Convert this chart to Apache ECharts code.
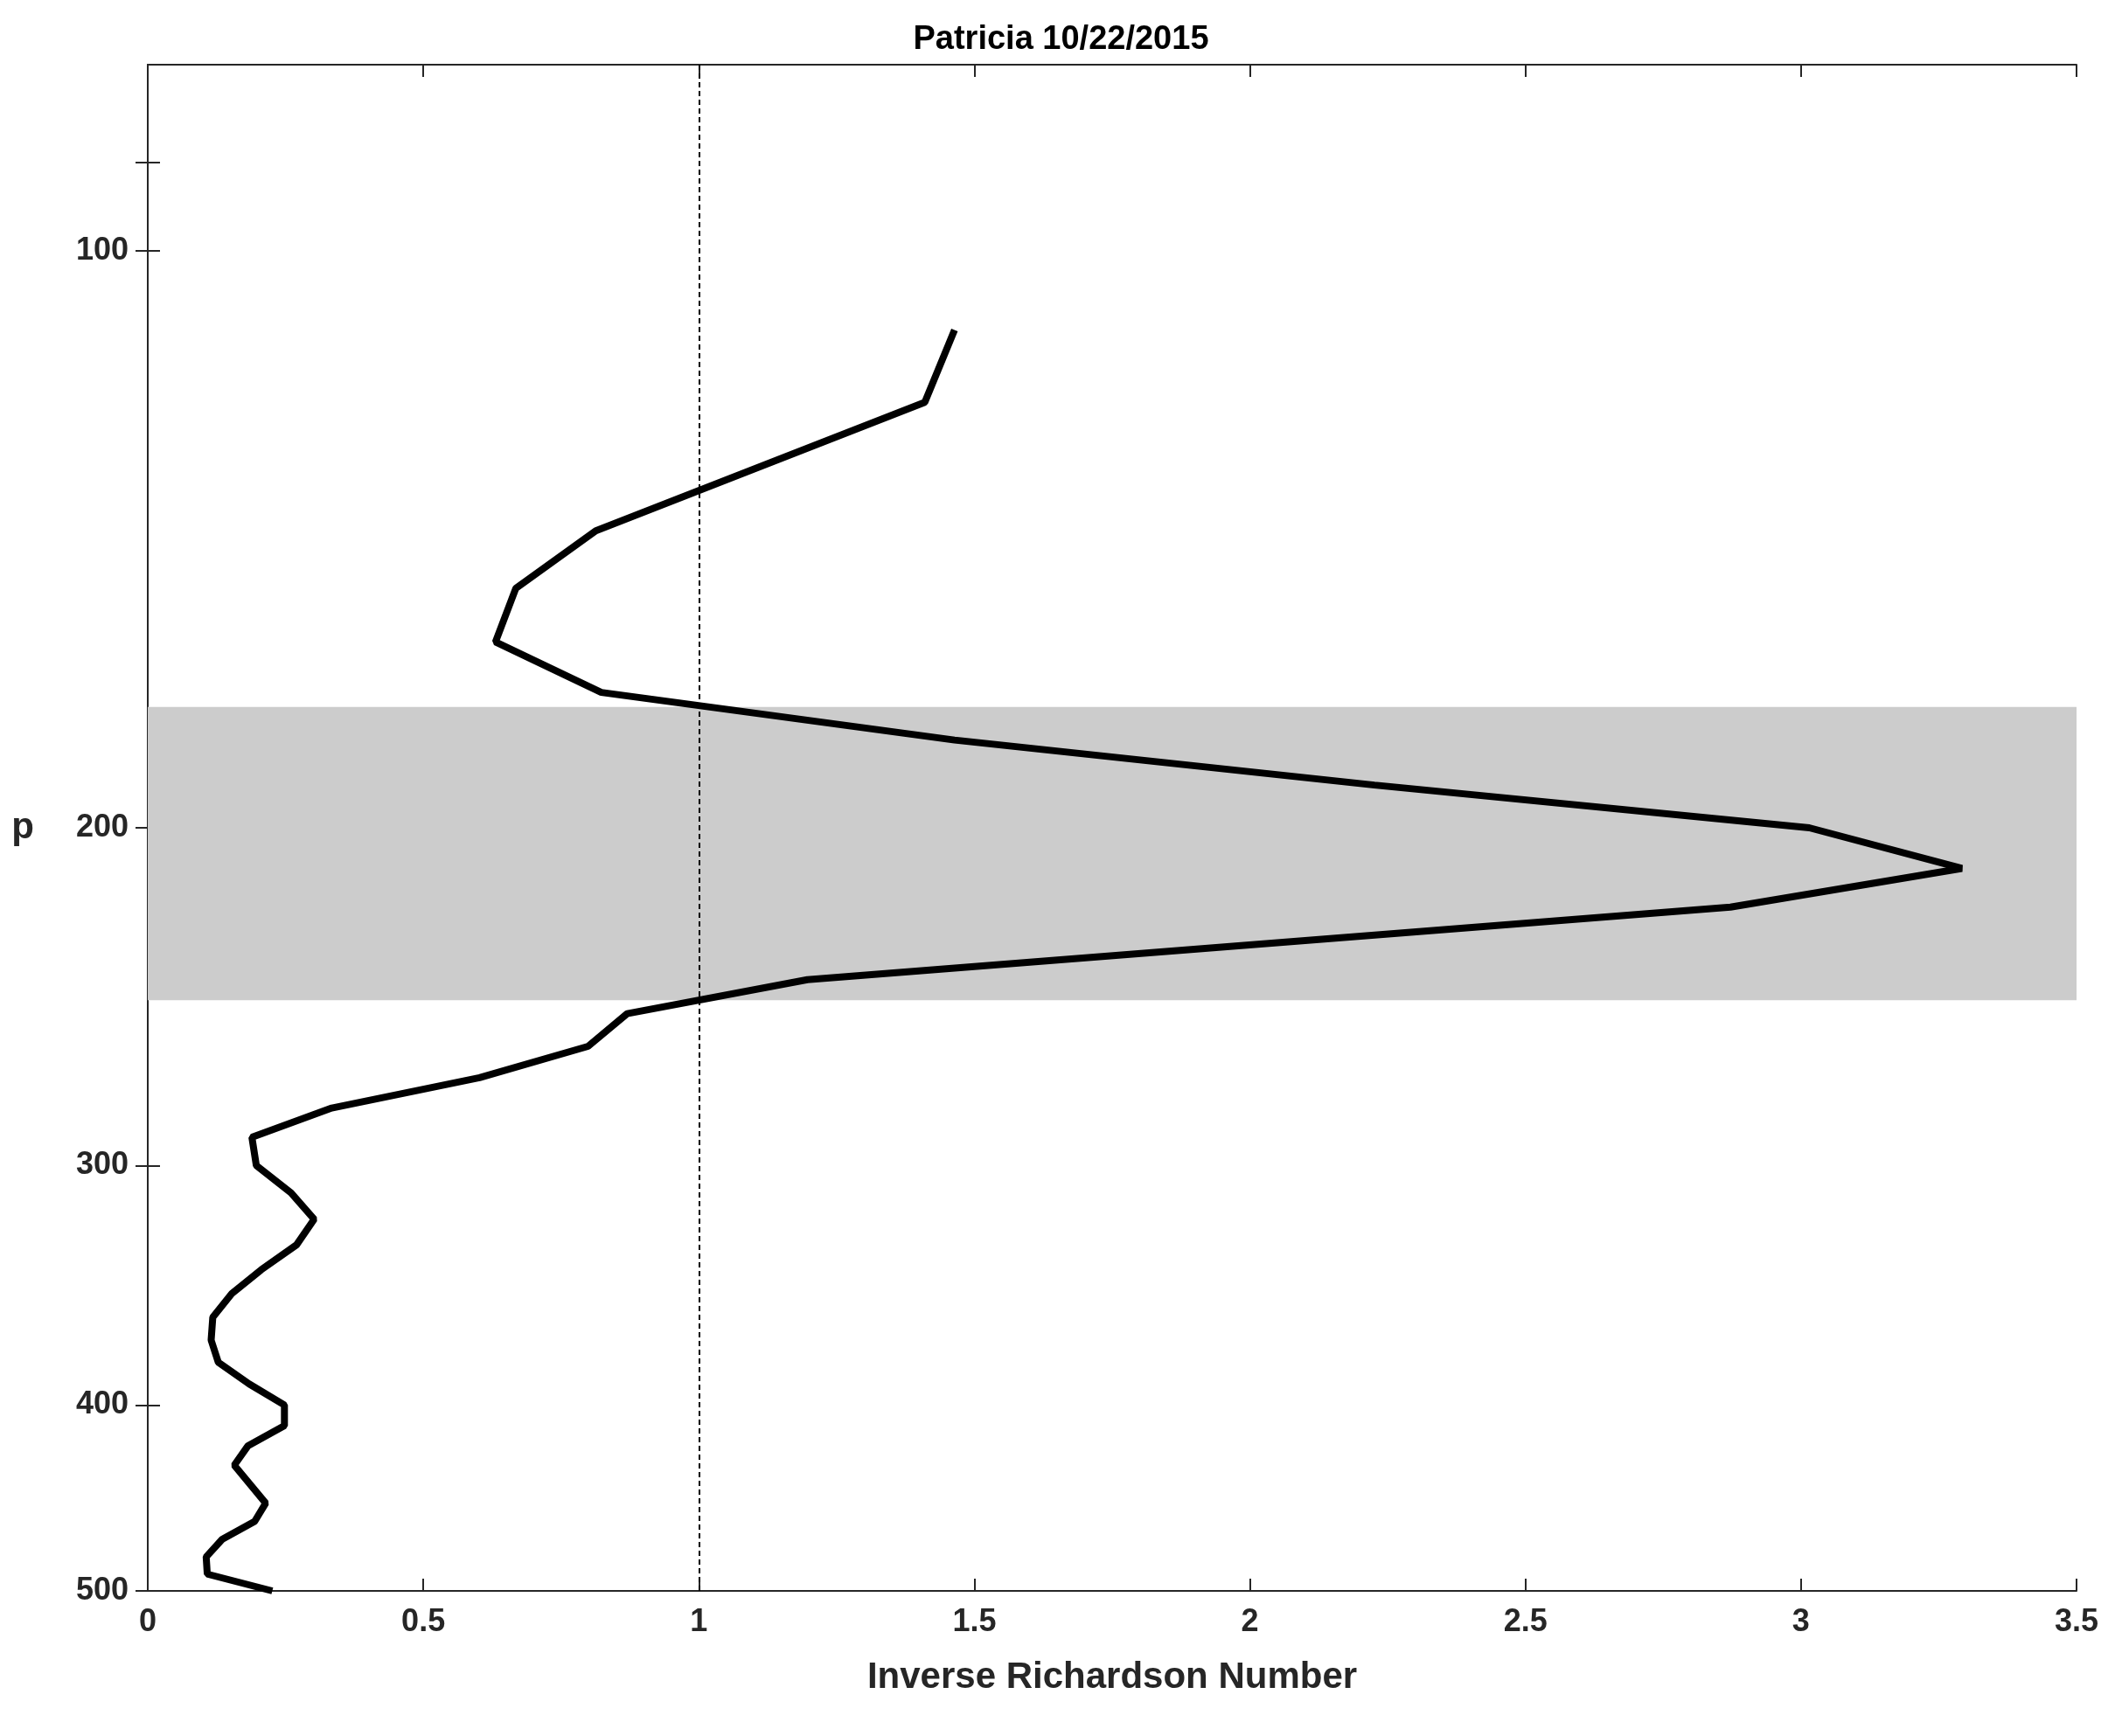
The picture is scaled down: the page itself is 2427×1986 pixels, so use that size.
<!DOCTYPE html>
<html><head><meta charset="utf-8">
<script src="https://cdn.jsdelivr.net/npm/echarts@6/dist/echarts.min.js"></script>
<style>html,body{margin:0;padding:0;background:#fff}#c{width:2427px;height:1986px}</style>
</head><body><div id="c"></div>
<script>
const pressure = [110,120,140,150,160,170,180,190,200,210,220,240,250,260,270,280,290,300,310,320,330,340,350,360,370,380,390,400,410,420,430,450,460,470,480,490,500];
const invRi = [1.464,1.410,0.813,0.668,0.631,0.823,1.464,2.226,3.015,3.292,2.872,1.197,0.870,0.799,0.602,0.334,0.189,0.197,0.260,0.302,0.270,0.206,0.152,0.118,0.115,0.128,0.184,0.248,0.248,0.182,0.157,0.214,0.194,0.135,0.106,0.108,0.226];
const yTickLabels = [100,200,300,400,500];
const yTicks = [90,100,200,300,400,500];
const band = [173,246];
const refX = 1;
const L = Math.log10;
const font = 'Liberation Sans, Arial, sans-serif';
const chart = echarts.init(document.getElementById('c'));
const axLine = {show:true,lineStyle:{color:'#262626',width:2}};
const tick = {show:true,inside:true,length:14,lineStyle:{color:'#262626',width:2}};
chart.setOption({
  animation:false,
  title:{text:'Patricia 10/22/2015',left:'center',top:22,textStyle:{fontFamily:font,fontSize:38,fontWeight:'bold',color:'#000'}},
  grid:{left:169,right:52,top:74,bottom:166},
  xAxis:[{type:'value',min:0,max:3.5,interval:0.5,axisLine:axLine,axisTick:tick,splitLine:{show:false},
    axisLabel:{fontFamily:font,fontSize:36,fontWeight:'bold',color:'#262626',margin:18,formatter:v=>String(v)},
    name:'Inverse Richardson Number',nameLocation:'middle',nameGap:78,nameTextStyle:{fontFamily:font,fontSize:42,fontWeight:'bold',color:'#262626'}},
   {type:'value',position:'top',min:0,max:3.5,interval:0.5,axisLine:axLine,axisTick:tick,axisLabel:{show:false},splitLine:{show:false}}],
  yAxis:[{type:'value',inverse:true,min:L(80),max:L(500),axisLine:axLine,splitLine:{show:false},
    axisTick:Object.assign({customValues:yTicks.map(L)},tick),
    axisLabel:{customValues:yTickLabels.map(L),formatter:v=>String(Math.round(Math.pow(10,v))),fontFamily:font,fontSize:36,fontWeight:'bold',color:'#262626',margin:22},
    name:'p',nameLocation:'middle',nameRotate:0,nameGap:130,nameTextStyle:{fontFamily:font,fontSize:42,fontWeight:'bold',color:'#262626'}},
   {type:'value',position:'right',inverse:true,min:L(80),max:L(500),axisLine:axLine,splitLine:{show:false},
    axisTick:Object.assign({customValues:yTicks.map(L)},tick),axisLabel:{show:false}}],
  series:[{type:'line',data:pressure.map((p,i)=>[invRi[i],L(p)]),showSymbol:false,symbol:'none',
    lineStyle:{color:'#000',width:8},z:5,
    markArea:{silent:true,itemStyle:{color:'#cccccc'},data:[[{yAxis:L(band[0])},{yAxis:L(band[1])}]]},
    markLine:{silent:true,symbol:'none',label:{show:false},lineStyle:{color:'#000',type:[6,4],width:2},data:[{xAxis:refX}]}}]
});
</script></body></html>
